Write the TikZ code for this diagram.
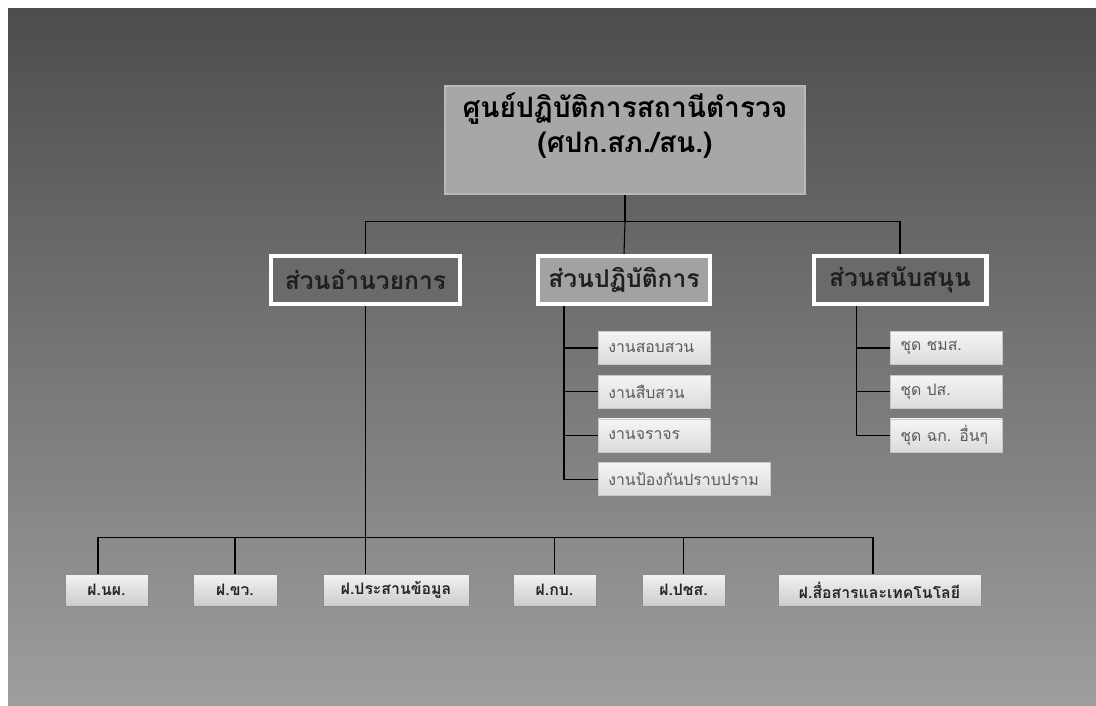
\documentclass[tikz,border=0pt]{standalone}
\usepackage{fontspec}
\newfontfamily\thaifont[Script=Thai]{Loma}
\usetikzlibrary{positioning,calc}

\definecolor{bgtop}{HTML}{4D4D4D}
\definecolor{bgbottom}{HTML}{9E9E9E}
\definecolor{headfill}{HTML}{A7A7A7}
\definecolor{headedge}{HTML}{B9B9B9}
\definecolor{darkunit}{HTML}{6A6A6A}
\definecolor{lightunit}{HTML}{A2A2A2}
\definecolor{tasktext}{HTML}{5A5A5A}

\begin{document}
\begin{tikzpicture}[x=0.02cm,y=-0.02cm,
      headbox/.style = {draw=headedge,line width=1.1pt,fill=headfill,
         minimum width=7.2cm,minimum height=2.16cm},
      headtext/.style = {font=\thaifont\bfseries\fontsize{16}{20}\selectfont,
         align=center,text=black},
      unitbox/.style = {draw=white,line width=2.3pt,minimum width=#1,
         minimum height=0.96cm,text=black!88,
         font=\thaifont\bfseries\fontsize{14}{16}\selectfont},
      taskbox/.style = {draw=black!22,line width=0.4pt,top color=black!4,
         bottom color=black!14,minimum height=0.66cm,text width=#1,
         inner xsep=0.2cm,align=left,text=tasktext,
         font=\thaifont\fontsize{9}{11}\selectfont},
      deptbox/.style = {draw=black!45,line width=0.5pt,top color=black!5,
         bottom color=black!20,minimum width=#1,minimum height=0.64cm,
         text=black!85,font=\thaifont\bfseries\fontsize{9}{11}\selectfont},
      link/.style = {draw=black,line width=0.6pt}
]
   % background
   \useasboundingbox (0,0) rectangle (1096,706);
   \fill[white] (0,0) rectangle (1096,706);
   \shade[top color=bgtop,bottom color=bgbottom] (8,9) rectangle (1096,706);

   % top level
   \node[headbox]            (top)    at (625,140) {};
   \node[headtext]           (toptxt) at (625,126)
      {ศูนย์ปฏิบัติการสถานีตำรวจ\\(ศปก.สภ./สน.)};

   % sections
   \node[unitbox=3.78cm,fill=darkunit]  (adm) at (365.5,280) {ส่วนอำนวยการ};
   \node[unitbox=3.44cm,fill=lightunit] (ops) at (624,280)   {ส่วนปฏิบัติการ};
   \node[unitbox=3.46cm,fill=darkunit]  (sup) at (900,280)   {ส่วนสนับสนุน};

   % tasks of ops
   \node[taskbox=1.84cm,anchor=west] (t1) at (598,348) {งานสอบสวน};
   \node[taskbox=1.84cm,below=0.2cm of t1.south west,anchor=north west] (t2)
      {งานสืบสวน};
   \node[taskbox=1.84cm,below=0.2cm of t2.south west,anchor=north west] (t3)
      {งานจราจร};
   \node[taskbox=3.04cm,below=0.2cm of t3.south west,anchor=north west] (t4)
      {งานป้องกันปราบปราม};

   % teams of sup
   \node[taskbox=1.84cm,anchor=west] (s1) at (890,348) {ชุด ชมส.};
   \node[taskbox=1.84cm,below=0.2cm of s1.south west,anchor=north west] (s2)
      {ชุด ปส.};
   \node[taskbox=1.84cm,below=0.2cm of s2.south west,anchor=north west] (s3)
      {ชุด ฉก. อื่นๆ};

   % divisions of adm
   \node[deptbox=1.66cm] (b1) at (106.5,590) {ฝ.นผ.};
   \node[deptbox=1.68cm] (b2) at (235,590)   {ฝ.ขว.};
   \node[deptbox=2.92cm] (b3) at (396,590)   {ฝ.ประสานข้อมูล};
   \node[deptbox=1.66cm] (b4) at (554.5,590) {ฝ.กบ.};
   \node[deptbox=1.66cm] (b5) at (683.5,590) {ฝ.ปชส.};
   \node[deptbox=4.06cm] (b6) at (879.5,590) {ฝ.สื่อสารและเทคโนโลยี};

   % connectors
   \draw[link] (top.south) -- ++(0,27) coordinate (bus);
   \draw[link] (adm.north) |- (bus) -| (sup.north);
   \draw[link] (bus) -- (ops.north);

   \coordinate (opsroot) at ([xshift=0.56cm]ops.south west);
   \draw[link] (opsroot) |- (t4.west);
   \foreach \t in {t1,t2,t3}
      \draw[link] (opsroot |- \t.west) -- (\t.west);

   \coordinate (suproot) at ([xshift=0.9cm]sup.south west);
   \draw[link] (suproot) |- (s3.west);
   \foreach \s in {s1,s2}
      \draw[link] (suproot |- \s.west) -- (\s.west);

   \draw[link] (adm.south) -- (adm.south |- b3.north);
   \path (adm.south |- b3.north) ++(0,-36) coordinate (admbus);
   \draw[link] ([xshift=-0.17cm]b1.north) |- (admbus) -| ([xshift=-0.13cm]b6.north);
   \foreach \b in {b2,b4,b5}
      \draw[link] (admbus -| \b.north) -- (\b.north);
\end{tikzpicture}
\end{document}
